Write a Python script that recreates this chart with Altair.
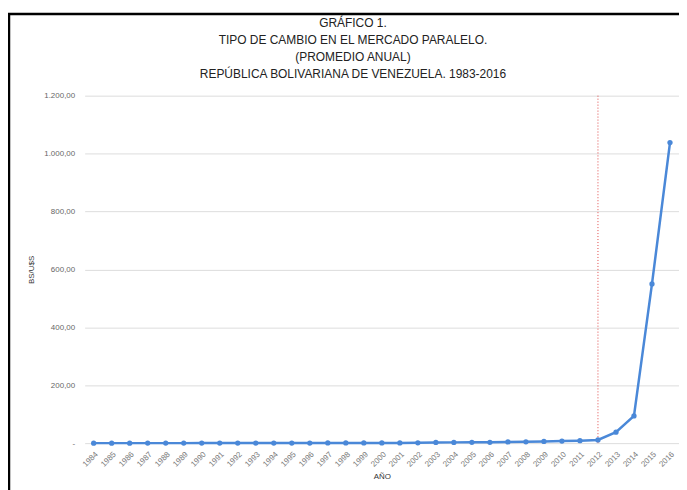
import altair as alt
import pandas as pd

years = list(range(1984, 2017))
rates = [0.01, 0.015, 0.02, 0.03, 0.035, 0.04, 0.05, 0.06, 0.07, 0.09,
         0.15, 0.2, 0.42, 0.49, 0.55, 0.61, 0.68, 0.72, 1.16, 2.4,
         2.6, 2.7, 2.8, 4.0, 4.6, 5.8, 7.0, 8.5, 11.0, 38.0,
         94.0, 550.0, 1038.0]
y_ticks = [0, 200, 400, 600, 800, 1000, 1200]
marker_year = [2012]
title_lines = ["GRÁFICO 1.",
               "TIPO DE CAMBIO EN EL MERCADO PARALELO.",
               "(PROMEDIO ANUAL)",
               "REPÚBLICA BOLIVARIANA DE VENEZUELA. 1983-2016"]

df = pd.DataFrame({"year": years, "rate": rates})
mk = pd.DataFrame({"year": marker_year, "top": [1200], "bot": [0]})

FONT = "Liberation Sans Narrow, Liberation Sans, Arial"

x_axis = alt.Axis(values=years, format="d", labelAngle=-45, title="AÑO",
                  grid=False, ticks=False, domain=False,
                  labelFontSize=8, labelColor="#7a7a7a", labelFont=FONT,
                  labelFlush=False, labelOverlap=False, labelPadding=7,
                  titleFontSize=8, titleColor="#333333", titleFont=FONT,
                  titleFontWeight="normal", titlePadding=4)
y_axis = alt.Axis(values=y_ticks, title="BS/U$S",
                  labelExpr="datum.value == 0 ? '-' : replace(replace(replace(format(datum.value, ',.2f'), ',', '#'), '.', ','), '#', '.')",
                  grid=True, gridColor="#dddddd", gridWidth=1,
                  ticks=False, domain=False,
                  labelFontSize=8, labelColor="#666666", labelFont=FONT,
                  labelPadding=10,
                  titleFontSize=8, titleColor="#333333", titleFont=FONT,
                  titleFontWeight="normal", titlePadding=8)

x_enc = alt.X("year:Q", scale=alt.Scale(domain=[1983.5, 2016.5], nice=False, zero=False), axis=x_axis)
y_enc = alt.Y("rate:Q", scale=alt.Scale(domain=[0, 1200], nice=False), axis=y_axis)

base = alt.Chart(df)
line = base.mark_line(color="#4a88d8", strokeWidth=2.5).encode(x=x_enc, y=y_enc)
pts = base.mark_point(filled=True, color="#4a88d8", size=28, opacity=1).encode(
    x=alt.X("year:Q", axis=x_axis), y=alt.Y("rate:Q", axis=y_axis))

vline = alt.Chart(mk).mark_rule(stroke="#e04848", color="#e04848", strokeWidth=1, strokeDash=[1, 2]).encode(
    x=alt.X("year:Q", axis=x_axis), y=alt.Y("top:Q", axis=y_axis), y2="bot:Q")

border_left = alt.Chart(mk).mark_rule(color="black", strokeWidth=2.5, clip=False).encode(
    x=alt.value(-76), y=alt.value(-82), y2=alt.value(400))
border_top = alt.Chart(mk).mark_rule(color="black", strokeWidth=2.5, clip=False).encode(
    x=alt.value(-77), x2=alt.value(601), y=alt.value(-82))

chart = alt.layer(line, vline, pts, border_left, border_top).properties(
    width=597, height=349,
    autosize=alt.AutoSizeParams(type="none"),
    padding={"left": 77, "top": 87, "right": 0, "bottom": 46},
    title=alt.TitleParams(text=title_lines, anchor="middle", frame="group",
                          dx=-29, offset=-68, fontSize=12, font=FONT,
                          fontWeight="normal", color="#222222", lineHeight=17),
    background="white",
).configure_view(stroke=None).configure_axisX(labelOverlap=False)

chart.save("out.html", embed_options={"renderer": "svg", "actions": False})
